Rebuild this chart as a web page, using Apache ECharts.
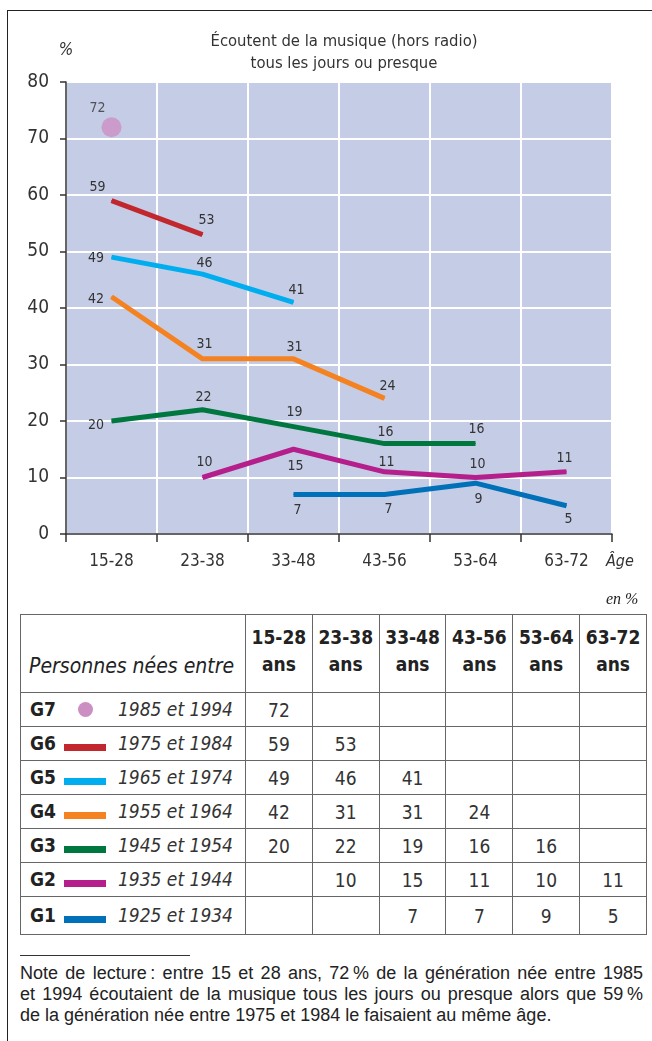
<!DOCTYPE html>
<html>
<head>
<meta charset="utf-8">
<script src="https://cdn.jsdelivr.net/npm/echarts@6/dist/echarts.min.js"></script>
<style>
  html, body { margin: 0; padding: 0; background: #fff; }
  .page { position: relative; width: 652px; height: 1041px; overflow: hidden; color: #333;
          font-family: "DejaVu Sans Condensed", "Liberation Sans", sans-serif; }
  .frame { position: absolute; left: 7px; top: 10px; width: 660px; height: 1040px;
           border-left: 1.5px solid #222; border-top: 1.5px solid #222; }
  #chart { position: absolute; left: 0; top: 0; width: 652px; height: 600px; }
  .unit { position: absolute; left: 606px; top: 590px; font: italic 16px "Liberation Serif", serif; color: #222; }
  table { position: absolute; left: 20px; top: 614px; width: 627px; border-collapse: collapse;
          border: 1.5px solid #333; table-layout: fixed; }
  td, th { border: 1px solid #666; padding: 0; }
  tr.head { height: 78px; }
  tr.row { height: 34px; }
  tr.last { height: 38px; }
  th { font-size: 19px; line-height: 27px; font-weight: bold; color: #222; padding-bottom: 6px; }
  th.lead { text-align: left; font-weight: normal; font-style: italic; font-size: 21px;
            vertical-align: bottom; padding: 0 0 12px 8px; }
  td { font-size: 19px; text-align: center; }
  td.lead { text-align: left; padding-left: 9px; white-space: nowrap; }
  td.lead b { display: inline-block; width: 34px; font-size: 19px; color: #222; }
  td.lead .sw { display: inline-block; width: 42px; text-align: center; vertical-align: middle; }
  td.lead .sw span { display: inline-block; }
  td.lead i { float: right; padding-right: 12px; }
  .sep { position: absolute; left: 20px; top: 955px; width: 170px; border-top: 1px solid #333; }
  .note { position: absolute; left: 20px; top: 963px; width: 623px; font: 18px/21px "Liberation Sans", sans-serif; color: #222; }
  .note div { white-space: nowrap; }
  .note div.j { text-align: justify; text-align-last: justify; }
</style>
</head>
<body>
<div class="page">
  <div class="frame"></div>
  <div id="chart"></div>
  <div class="unit">en %</div>
  <table id="tbl"></table>
  <div class="sep"></div>
  <div class="note">
    <div class="j">Note de lecture&#8239;: entre 15 et 28 ans, 72&#8239;% de la génération née entre 1985</div>
    <div class="j">et 1994 écoutaient de la musique tous les jours ou presque alors que 59&#8239;%</div>
    <div>de la génération née entre 1975 et 1984 le faisaient au même âge.</div>
  </div>
</div>
<script>
  /*tranches d'âge*/
  var ages = ['15-28', '23-38', '33-48', '43-56', '53-64', '63-72'];

  /*valeurs par génération (null = pas de donnée)*/
  var g7 = [72, null, null, null, null, null];
  var g6 = [59, 53, null, null, null, null];
  var g5 = [49, 46, 41, null, null, null];
  var g4 = [42, 31, 31, 24, null, null];
  var g3 = [20, 22, 19, 16, 16, null];
  var g2 = [null, 10, 15, 11, 10, 11];
  var g1 = [null, null, 7, 7, 9, 5];

  var genNames = ['G7', 'G6', 'G5', 'G4', 'G3', 'G2', 'G1'];
  var genYears = ['1985 et 1994', '1975 et 1984', '1965 et 1974', '1955 et 1964',
                  '1945 et 1954', '1935 et 1944', '1925 et 1934'];
  var yTicks = [0, 10, 20, 30, 40, 50, 60, 70, 80];

  var genData = [g7, g6, g5, g4, g3, g2, g1];
  var genColors = ['#cc8fc4', '#c1272d', '#00aeef', '#f58220', '#00773f', '#b51f8c', '#0070b8'];

  /*placement des étiquettes, point par point*/
  var labelPlace = [
    [['top', -14, 3]],
    [['top', -14, -1], ['top', 4, -2]],
    [['left', -2, 1], ['top', 2, 2], ['top', 3, 1]],
    [['left', -2, 3], ['top', 2, -2], ['top', 1, 1], ['top', 3, 0]],
    [['left', -2, 4], ['top', 1, 0], ['top', 1, -2], ['top', 1, 1], ['top', 1, -2]],
    [null, ['top', 2, -3], ['bottom', 2, 5], ['top', 2, 3], ['top', 2, -1], ['top', -2, -1]],
    [null, null, ['bottom', 4, 3], ['bottom', 4, 2], ['bottom', 3, 4], ['bottom', 2, 1]]
  ];

  var narrow = '"DejaVu Sans Condensed", sans-serif';

  function setupSeries() {
    var series = [];
    genData.forEach(function (values, gi) {
      var places = labelPlace[gi];
      var data = values.map(function (v, i) {
        if (v === null) return null;
        var p = places[i];
        return {
          value: v,
          label: {position: p[0], offset: [p[1], p[2]]}
        };
      });
      var item = {
        name: genNames[gi],
        data: data,
        itemStyle: {color: genColors[gi]},
        label: {
          show: true,
          color: '#333',
          fontSize: 14,
          fontFamily: narrow,
          distance: 5
        },
        z: 10 - gi,
        silent: true
      };
      if (gi === 0) {
        item.type = 'scatter';
        item.symbolSize = 20;
      } else {
        item.type = 'line';
        item.symbol = 'circle';
        item.symbolSize = 1;
        item.lineStyle = {width: 5, color: genColors[gi]};
        item.connectNulls = false;
      }
      series.push(item);
    });
    return series;
  }

  var chart = echarts.init(document.getElementById('chart'));
  chart.setOption({
    animation: false,
    title: {
      text: 'Écoutent de la musique (hors radio)\ntous les jours ou presque',
      left: 339,
      top: 26,
      textAlign: 'center',
      textStyle: {fontSize: 16.5, fontWeight: 'normal', color: '#333', lineHeight: 22, fontFamily: narrow}
    },
    grid: {
      show: true,
      backgroundColor: '#c5cce6',
      borderWidth: 0,
      left: 66,
      right: 40,
      top: 82,
      bottom: 66
    },
    xAxis: {
      type: 'category',
      data: ages,
      boundaryGap: true,
      axisLine: {lineStyle: {color: '#333', width: 1.5}},
      axisTick: {show: true, length: 8, lineStyle: {color: '#333', width: 1.5}},
      axisLabel: {color: '#333', fontSize: 17, fontFamily: narrow, margin: 19},
      splitLine: {show: true, lineStyle: {color: '#fff', width: 2}}
    },
    yAxis: {
      type: 'value',
      min: yTicks[0],
      max: yTicks[yTicks.length - 1],
      interval: 10,
      name: '%',
      nameLocation: 'end',
      nameGap: 23,
      nameTextStyle: {fontStyle: 'italic', fontSize: 17, color: '#333', fontFamily: narrow},
      axisLine: {show: true, lineStyle: {color: '#333', width: 1.5}},
      axisTick: {show: true, length: 6, lineStyle: {color: '#333', width: 1.5}},
      axisLabel: {color: '#333', fontSize: 19, fontFamily: narrow, margin: 17},
      splitLine: {show: true, lineStyle: {color: '#fff', width: 2}}
    },
    graphic: [{
      type: 'text',
      left: 606,
      top: 554,
      style: {text: 'Âge', fontSize: 16, fontStyle: 'italic', fill: '#333', fontFamily: narrow}
    }],
    series: setupSeries()
  });

  /*tableau sous le graphique*/
  function buildTable() {
    var html = '<colgroup><col style="width:225px">';
    ages.forEach(function () { html += '<col>'; });
    html += '</colgroup><tr class="head"><th class="lead">Personnes nées entre</th>';
    ages.forEach(function (a) { html += '<th>' + a + '<br>ans</th>'; });
    html += '</tr>';
    genData.forEach(function (values, gi) {
      var sw = gi === 0
        ? '<span style="width:15px;height:15px;border-radius:50%;background:' + genColors[gi] + '"></span>'
        : '<span style="width:42px;height:7px;background:' + genColors[gi] + '"></span>';
      var cls = gi === genData.length - 1 ? 'last' : 'row';
      html += '<tr class="' + cls + '"><td class="lead"><b>' + genNames[gi] + '</b><span class="sw">' + sw + '</span><i>' + genYears[gi] + '</i></td>';
      values.forEach(function (v) { html += '<td>' + (v === null ? '' : v) + '</td>'; });
      html += '</tr>';
    });
    document.getElementById('tbl').innerHTML = html;
  }
  buildTable();
</script>
</body>
</html>
